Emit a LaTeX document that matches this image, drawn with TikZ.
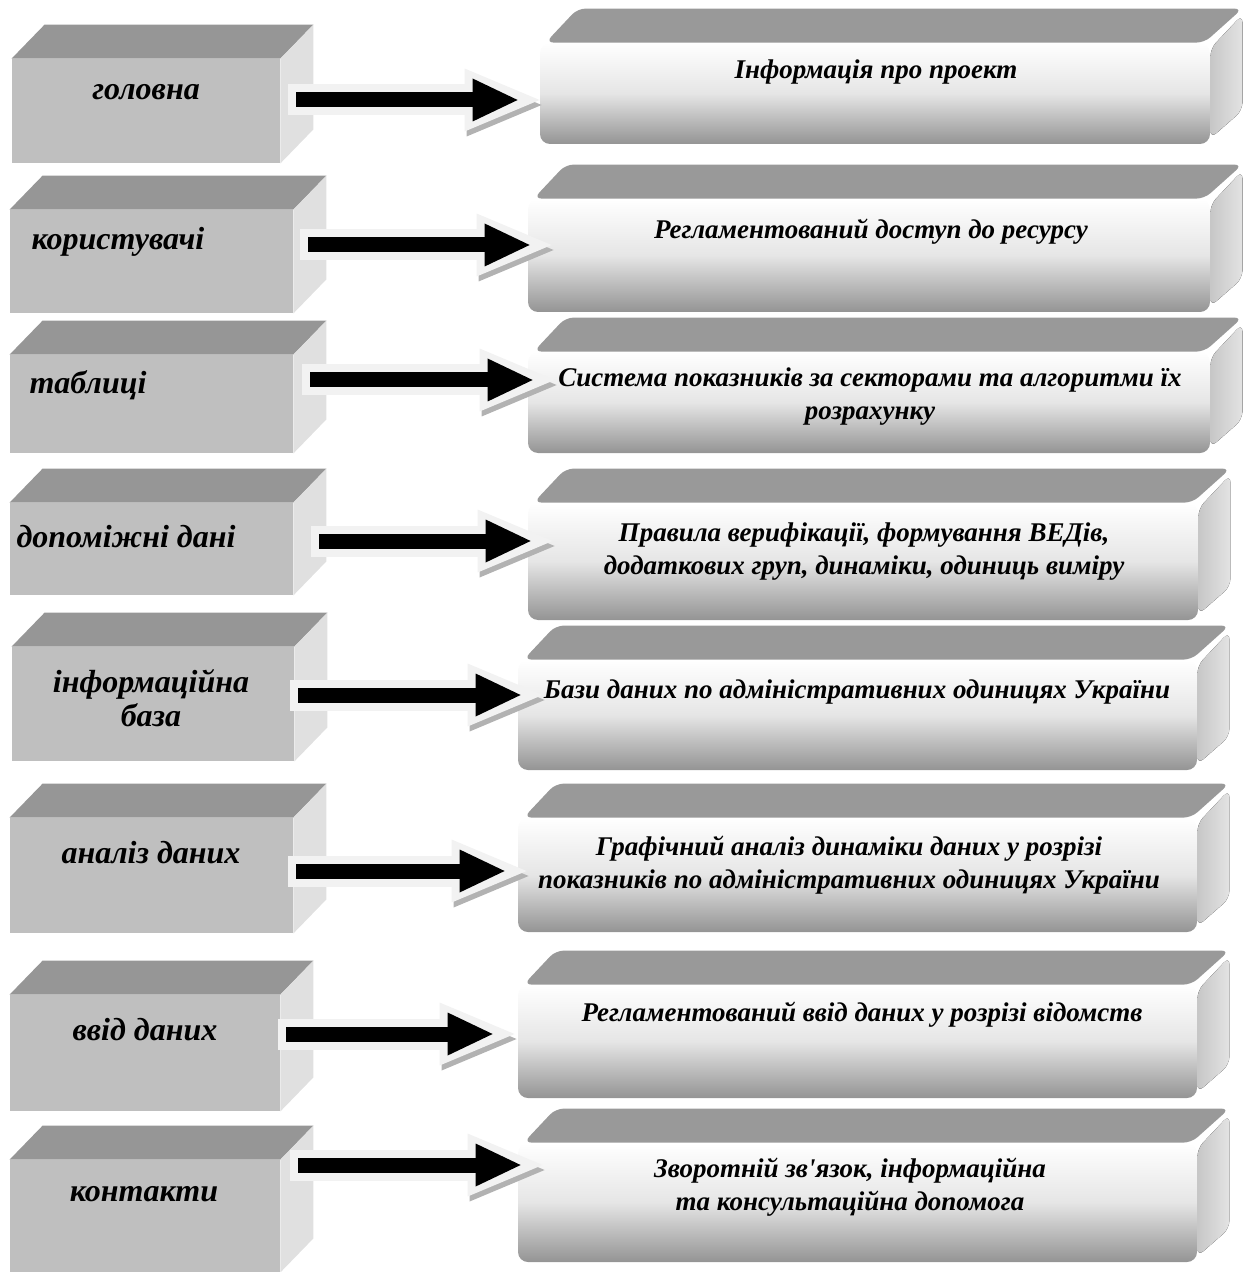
\documentclass[tikz,border=0pt]{standalone}
\usepackage{fontspec}
\setmainfont{Liberation Serif}
\usetikzlibrary{arrows.meta,fit,calc}

\tikzset{
  cubefront/.style={fill=black!25, inner sep=0pt},
  cubetop/.style={fill=black!41},
  cubeside/.style={fill=black!12},
  boxfront/.style={rounded corners=5pt, top color=white, bottom color=black!42, middle color=black!10, inner sep=0pt},
  boxtop/.style={fill=black!40, rounded corners=4pt},
  boxside/.style={left color=black!22, right color=black!11, rounded corners=4pt},
  leftlabel/.style={font=\fontsize{16}{17}\selectfont\bfseries\itshape, align=center},
  rightlabel/.style={font=\fontsize{13.5}{16.5}\selectfont\bfseries\itshape, align=center},
  blockarrow/.style={draw=black!5, line width=15.5pt,
    -{Triangle[length=37.5pt, width=31.5pt, line width=0pt]},
    preaction={draw=black!30, transform canvas={shift={(1pt,-2.5pt)}}},
    postaction={draw=black, line width=7.5pt, shorten <=4pt, shorten >=11pt,
      -{Triangle[length=22.5pt, width=21.5pt, line width=0pt]}}}
}

\begin{document}
\begin{tikzpicture}[x=0.5pt, y=-0.5pt]
\useasboundingbox (0,0) rectangle (1242,1272);

% left column: cubes
\node[cubefront, fit={(12,59) (280,163)}] (l1) {};
\node[cubefront, fit={(10,210) (293,313)}] (l2) {};
\node[cubefront, fit={(10,355) (293,453)}] (l3) {};
\node[cubefront, fit={(10,503) (293,595)}] (l4) {};
\node[cubefront, fit={(12,647) (294,761)}] (l5) {};
\node[cubefront, fit={(10,818) (293,933)}] (l6) {};
\node[cubefront, fit={(10,995) (280,1111)}] (l7) {};
\node[cubefront, fit={(10,1160) (280,1272)}] (l8) {};
\foreach \c in {l1,l2,l3,l4,l5,l6,l7,l8} {
  \fill[cubetop] (\c.north west) -- ++(33,-34) -- ([shift={(33,-34)}]\c.north east) -- (\c.north east) -- cycle;
  \fill[cubeside] (\c.north east) -- ++(33,-34) -- ([shift={(33,-34)}]\c.south east) -- (\c.south east) -- cycle;
}

% right column: rounded boxes
\node[boxfront, fit={(540,43) (1210,144)}] (r1) {};
\node[boxfront, fit={(528,199) (1210,312)}] (r2) {};
\node[boxfront, fit={(528,352) (1210,453)}] (r3) {};
\node[boxfront, fit={(528,503) (1198,620)}] (r4) {};
\node[boxfront, fit={(518,660) (1197,770)}] (r5) {};
\node[boxfront, fit={(518,818) (1197,932)}] (r6) {};
\node[boxfront, fit={(518,985) (1197,1098)}] (r7) {};
\node[boxfront, fit={(518,1143) (1197,1262)}] (r8) {};
\foreach \c in {r1,r2,r3,r4,r5,r6,r7,r8} {
  \fill[boxtop] ([xshift=3pt]\c.north west) -- ++(32,-34) -- ([shift={(32,-34)}]\c.north east) -- ([xshift=-3pt]\c.north east) -- cycle;
  \fill[boxside] ([yshift=-3pt]\c.north east) -- ++(32,-34) -- ([shift={(32,-34)}]\c.south east) -- ([yshift=3pt]\c.south east) -- cycle;
}

% labels
\node[leftlabel] (n1) at (146,92) {головна};
\node[leftlabel] (n2) at (118,242) {користувачі};
\node[leftlabel] (n3) at (88,385) {таблиці};
\node[leftlabel] (n4) at (126,537) {допоміжні дані};
\node[leftlabel] (n5) at (151,698) {інформаційна\\база};
\node[leftlabel] (n6) at (151,853) {аналіз даних};
\node[leftlabel] (n7) at (145,1030) {ввід даних};
\node[leftlabel] (n8) at (144,1194) {контакти};

\node[rightlabel] (d1) at (876,72) {Інформація про проект};
\node[rightlabel] (d2) at (871,232) {Регламентований доступ до ресурсу};
\node[rightlabel] (d3) at (870,397) {Система показників за секторами та алгоритми їх\\розрахунку};
\node[rightlabel] (d4) at (864,552) {Правила верифікації, формування ВЕДів,\\додаткових груп, динаміки, одиниць виміру};
\node[rightlabel] (d5) at (857,692) {Бази даних по адміністративних одиницях України};
\node[rightlabel] (d6) at (849,865) {Графічний аналіз динаміки даних у розрізі\\показників по адміністративних одиницях України};
\node[rightlabel] (d7) at (862,1015) {Регламентований ввід даних у розрізі відомств};
\node[rightlabel] (d8) at (850,1187) {Зворотній зв\textquotesingle язок, інформаційна\\та консультаційна допомога};

% arrows
\coordinate (a1) at (288,100);
\coordinate (a2) at (300,245);
\coordinate (a3) at (302,380);
\coordinate (a4) at (311,541);
\coordinate (a5) at (290,695);
\coordinate (a6) at (288,871);
\coordinate (a7) at (278,1034);
\coordinate (a8) at (290,1165);
\draw[blockarrow] (a1) -- (r1.west |- a1);
\draw[blockarrow] (a2) -- ($(r2.west |- a2)+(24,0)$);
\draw[blockarrow] (a3) -- ($(r3.west |- a3)+(27,0)$);
\draw[blockarrow] (a4) -- ($(r4.west |- a4)+(25,0)$);
\draw[blockarrow] (a5) -- ($(r5.west |- a5)+(25,0)$);
\draw[blockarrow] (a6) -- ($(r6.west |- a6)+(9,0)$);
\draw[blockarrow] (a7) -- ($(r7.west |- a7)+(-3,0)$);
\draw[blockarrow] (a8) -- ($(r8.west |- a8)+(25,0)$);
\end{tikzpicture}
\end{document}
